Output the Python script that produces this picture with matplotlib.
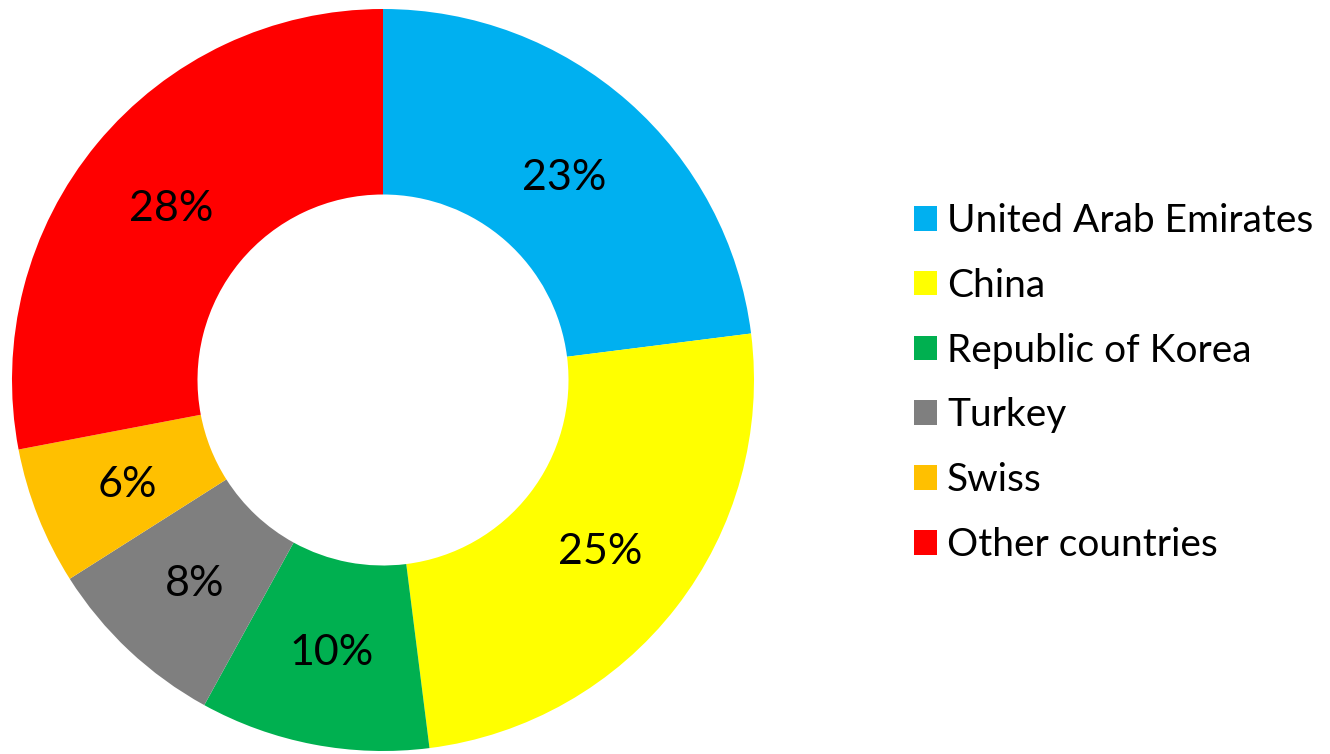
import matplotlib
matplotlib.use("Agg")
import matplotlib.pyplot as plt
from matplotlib.patches import Patch

plt.rcParams['font.family'] = ['Lato', 'DejaVu Sans']

# Data
countries = ['United Arab Emirates', 'China', 'Republic of Korea',
             'Turkey', 'Swiss', 'Other countries']
shares = [23, 25, 10, 8, 6, 28]
colors = ['#00B0F0', '#FFFF00', '#00B050', '#7F7F7F', '#FFC000', '#FF0000']

W, H = 1330, 754
fig = plt.figure(figsize=(W / 100, H / 100), dpi=100)

# Donut axes placed so the ring sits where it does in the original
cx, cy, r = 383, 380, 371
ax = fig.add_axes([(cx - r) / W, (H - cy - r) / H, 2 * r / W, 2 * r / H])

wedges, texts = ax.pie(shares, colors=colors, startangle=90, counterclock=False,
                       radius=1, wedgeprops=dict(width=0.5, linewidth=0),
                       labels=[f'{v}%' for v in shares], labeldistance=0.74)
for t in texts:
    t.set_fontsize(31)
    t.set_ha('center')
    t.set_va('center_baseline')
ax.set_xlim(-1, 1)
ax.set_ylim(-1, 1)
ax.set_aspect('equal')
ax.axis('off')

handles = [Patch(facecolor=c, edgecolor='none') for c in colors]
fig.legend(handles, countries, loc='center left',
           bbox_to_anchor=(914 / W, (H - 383) / H),
           frameon=False, fontsize=28, handlelength=0.6, handleheight=0.6,
           handletextpad=0.25, labelspacing=0.74, borderaxespad=0,
           borderpad=0)

fig.savefig('out.png', dpi=100)
